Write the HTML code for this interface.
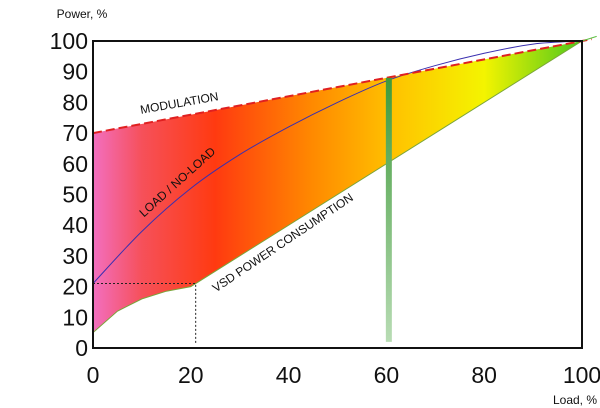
<!DOCTYPE html>
<html><head><meta charset="utf-8"><style>
body{margin:0;background:#fff;width:600px;height:408px;overflow:hidden}
svg{display:block;font-family:"Liberation Sans",sans-serif}
</style></head><body>
<svg id="chart" width="600" height="408">
<defs>
<linearGradient id="fillGrad" x1="93" y1="0" x2="582" y2="0" gradientUnits="userSpaceOnUse">
<stop offset="0" stop-color="#f26fc0"/>
<stop offset="0.1" stop-color="#f6505a"/>
<stop offset="0.25" stop-color="#ff3a10"/>
<stop offset="0.45" stop-color="#ff8a00"/>
<stop offset="0.62" stop-color="#ffc400"/>
<stop offset="0.8" stop-color="#f4f400"/>
<stop offset="1" stop-color="#4cc81c"/>
</linearGradient>
<linearGradient id="barGrad" x1="0" y1="0" x2="0" y2="1">
<stop offset="0" stop-color="#3f9a3a"/>
<stop offset="1" stop-color="#b8dcb4"/>
</linearGradient>
</defs>
<g id="plot"></g>
</svg>
<script>
const xLoad=[0,10,20,30,40,50,60,70,80,90,100];
const loadNoLoad=[21,38,52,63,72,80,87,92,96,99,100];
const modX=[0,100];
const modulation=[70,100];
const vsdX=[0,5,10,15,20,100];
const vsd=[5,12,16,18.5,20,100];
const xTicks=[0,20,40,60,80,100];
const yTicks=[0,10,20,30,40,50,60,70,80,90,100];
const markerLoad=[60.5];
const kneePoint=[21,21];

const X=v=>93+v*4.89;
const Y=v=>348-v*3.07;
const ns="http://www.w3.org/2000/svg";
const g=document.getElementById('plot');
function mk(t,a){const e=document.createElementNS(ns,t);for(const k in a)e.setAttribute(k,a[k]);g.appendChild(e);return e;}

// fill area between modulation and vsd
let d="M"+modX.map((x,i)=>X(x)+","+Y(modulation[i])).join(" L");
for(let i=vsdX.length-1;i>=0;i--)d+=" L"+X(vsdX[i])+","+Y(vsd[i]);
let area=mk('path',{d:d+"Z",fill:"url(#fillGrad)"});



// vsd line
let vl=mk('polyline',{points:vsdX.map((x,i)=>X(x)+","+Y(vsd[i])).join(" "),fill:"none",stroke:"#7aa53a","stroke-width":1});



// load/no-load curve (smooth)
let pts=xLoad.map((x,i)=>[X(x),Y(loadNoLoad[i])]);
let cd="M"+pts[0].join(",");
for(let i=0;i<pts.length-1;i++){const p0=pts[i-1]||pts[i],p1=pts[i],p2=pts[i+1],p3=pts[i+2]||p2;
cd+=" C"+(p1[0]+(p2[0]-p0[0])/6)+","+(p1[1]+(p2[1]-p0[1])/6)+" "+(p2[0]-(p3[0]-p1[0])/6)+","+(p2[1]-(p3[1]-p1[1])/6)+" "+p2[0]+","+p2[1];}
let ll=mk('path',{d:cd,fill:"none",stroke:"#3a2fb0","stroke-width":1});



// modulation dashed
let ml=mk('line',{x1:X(modX[0]),y1:Y(modulation[0]),x2:X(102),y2:Y(100.6),stroke:"#e02020","stroke-width":2,"stroke-dasharray":"9,4"});



// green extension line
let gl=mk('line',{x1:X(100),y1:Y(100),x2:X(103),y2:Y(101.5),stroke:"#5cc040","stroke-width":1});



// dotted knee lines
let dh=mk('polyline',{points:X(0)+","+Y(kneePoint[1])+" "+X(kneePoint[0])+","+Y(kneePoint[1])+" "+X(kneePoint[0])+","+Y(1),fill:"none",stroke:"#222","stroke-width":1,"stroke-dasharray":"2,2"});



// marker bar
let br=mk('rect',{x:X(markerLoad[0])-3,y:Y(88),width:6,height:Y(2)-Y(88),fill:"url(#barGrad)"});



// frame
let fr=mk('rect',{x:93,y:41,width:489,height:307,fill:"none",stroke:"#111","stroke-width":2});



yTicks.forEach(v=>{let t=mk('text',{x:88,y:Y(v)+8,"text-anchor":"end","font-size":23,fill:"#111"});t.textContent=v;

});
xTicks.forEach(v=>{let t=mk('text',{x:X(v),y:383,"text-anchor":"middle","font-size":23,fill:"#111"});t.textContent=v;

});

function lbl(txt,x,y,r,s,n){let t=mk('text',{x:x,y:y,"text-anchor":"middle","font-size":s,fill:"#111",transform:"rotate("+r+" "+x+" "+y+")"});t.textContent=txt;

}
lbl("Power, %",82,18,0,12,"y-axis-title");
lbl("Load, %",575,404,0,12,"x-axis-title");
lbl("MODULATION",180,107,-10,12,"modulation-label");
lbl("LOAD / NO-LOAD",180,185,-42,12,"load-no-load-label");
lbl("VSD POWER CONSUMPTION",285,246,-34,12,"vsd-label");
</script>
</body></html>
